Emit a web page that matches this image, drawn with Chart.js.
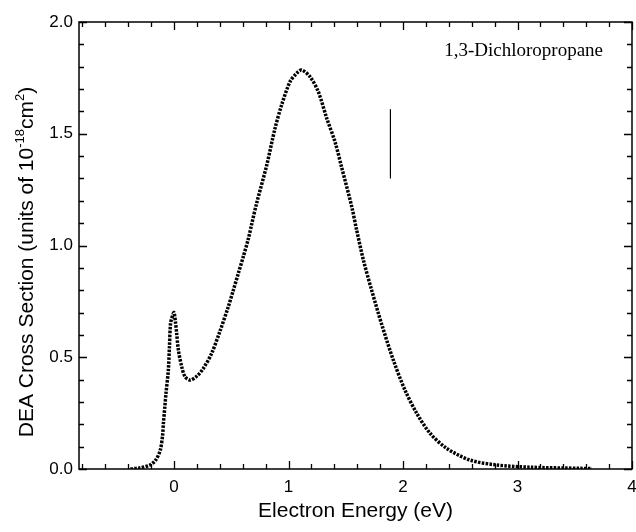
<!DOCTYPE html>
<html>
<head>
<meta charset="utf-8">
<script src="https://cdn.jsdelivr.net/npm/chart.js@4"></script>
<style>
  html, body { margin: 0; padding: 0; background: #fff; }
  #wrap { width: 636px; height: 532px; }
</style>
</head>
<body>
<div id="wrap"><canvas id="dea"></canvas></div>
<script>
// values (eV, units of 1e-18 cm^2)
const energy = [
  -0.38, -0.30, -0.21, -0.16, -0.12, -0.10, -0.093, -0.08, -0.07, -0.05,
  -0.04, -0.03, -0.01, 0.00, 0.012, 0.023, 0.038, 0.067, 0.096, 0.14,
  0.198, 0.256, 0.329, 0.40, 0.474, 0.518, 0.562, 0.605, 0.649, 0.678,
  0.722, 0.81, 0.882, 0.94, 1.013, 1.07, 1.115, 1.188,
  1.26, 1.334, 1.406, 1.464, 1.552, 1.595, 1.654, 1.726, 1.82, 1.915,
  2.017, 2.12, 2.236, 2.38, 2.585, 2.818, 3.11, 3.55, 3.65
];
const crossSection = [
  0.000, 0.005, 0.018, 0.040, 0.085, 0.150, 0.204, 0.280, 0.340, 0.440,
  0.547, 0.652, 0.690, 0.700, 0.660, 0.607, 0.532, 0.458, 0.413, 0.398,
  0.415, 0.450, 0.518, 0.615, 0.726, 0.800, 0.876, 0.950, 1.030, 1.095,
  1.190, 1.360, 1.524, 1.629, 1.733, 1.770, 1.785, 1.755,
  1.688, 1.569, 1.464, 1.350, 1.174, 1.069, 0.935, 0.800, 0.637, 0.488,
  0.353, 0.249, 0.160, 0.093, 0.040, 0.018, 0.008, 0.003, 0.002
];
const xTicks = [0, 1, 2, 3, 4];
const yTicks = [0, 0.5, 1.0, 1.5, 2.0];
const markerEnergy = [1.89, 1.89];
const markerSection = [1.30, 1.61];
const compound = '1,3-Dichloropropane';

const points = energy.map((e, i) => ({ x: e, y: crossSection[i] }));
const marker = markerEnergy.map((e, i) => ({ x: e, y: markerSection[i] }));

// box with inward ticks on all four sides
const frameTicks = {
  id: 'frameTicks',
  afterDraw(chart) {
    const { ctx, chartArea: a, scales: { x, y } } = chart;
    ctx.save();
    ctx.strokeStyle = '#000';
    ctx.lineWidth = 1.5;
    ctx.strokeRect(a.left, a.top, a.right - a.left, a.bottom - a.top);
    ctx.lineWidth = 1.3;
    ctx.beginPath();
    for (let i = -4; i <= 20; i++) {
      const px = Math.round(x.getPixelForValue(i / 5)) + 0.5;
      const len = i % 5 === 0 ? 8 : 5;
      ctx.moveTo(px, a.bottom); ctx.lineTo(px, a.bottom - len);
      ctx.moveTo(px, a.top); ctx.lineTo(px, a.top + len);
    }
    for (let i = 0; i <= 20; i++) {
      const py = Math.round(y.getPixelForValue(i / 10)) + 0.5;
      const len = i % 5 === 0 ? 8 : 5;
      ctx.moveTo(a.left, py); ctx.lineTo(a.left + len, py);
      ctx.moveTo(a.right, py); ctx.lineTo(a.right - len, py);
    }
    ctx.stroke();

    // compound name
    ctx.fillStyle = '#000';
    ctx.font = '19px "Liberation Serif", serif';
    ctx.textAlign = 'right';
    ctx.textBaseline = 'alphabetic';
    ctx.fillText(compound, 603, 56);

    // y title with superscripts
    const parts = [
      ['DEA Cross Section (units of 10', 0],
      ['-18', 1],
      ['cm', 0],
      ['2', 1],
      [')', 0]
    ];
    const big = '21px "Liberation Sans", Arial, sans-serif';
    const small = '13px "Liberation Sans", Arial, sans-serif';
    let total = 0;
    parts.forEach(([t, sup]) => { ctx.font = sup ? small : big; total += ctx.measureText(t).width; });
    ctx.translate(33, 262);
    ctx.rotate(-Math.PI / 2);
    ctx.textAlign = 'left';
    let cx = -total / 2;
    parts.forEach(([t, sup]) => {
      ctx.font = sup ? small : big;
      ctx.fillText(t, cx, sup ? -9 : 0);
      cx += ctx.measureText(t).width;
    });
    ctx.restore();
  }
};

new Chart(document.getElementById('dea'), {
  type: 'scatter',
  data: {
    datasets: [
      {
        label: compound,
        data: points,
        showLine: true,
        borderColor: '#000',
        backgroundColor: '#000',
        borderWidth: 3.5,
        borderDash: [2.5, 1.3],
        tension: 0.3,
        pointRadius: 0
      },
      {
        label: 'marker',
        data: marker,
        showLine: true,
        borderColor: '#000',
        borderWidth: 1.2,
        pointRadius: 0
      }
    ]
  },
  options: {
    responsive: true,
    maintainAspectRatio: false,
    animation: false,
    layout: { padding: { top: 22, right: 4, left: 0, bottom: 0 } },
    plugins: { legend: { display: false }, tooltip: { enabled: false } },
    scales: {
      x: {
        type: 'linear',
        min: -0.83,
        max: 4,
        grid: { display: false, drawTicks: false },
        border: { display: false },
        afterBuildTicks: s => { s.ticks = xTicks.map(v => ({ value: v })); },
        afterFit: s => { s.height = 63; s.paddingLeft = 0; s.paddingRight = 0; },
        ticks: {
          padding: 8,
          maxRotation: 0,
          color: '#000',
          font: { family: '"Liberation Sans", Arial, sans-serif', size: 17 },
          callback: v => String(v)
        },
        title: {
          display: true,
          text: 'Electron Energy (eV)',
          color: '#000',
          font: { family: '"Liberation Sans", Arial, sans-serif', size: 21 },
          padding: { top: 0, bottom: 8 }
        }
      },
      y: {
        type: 'linear',
        min: 0,
        max: 2,
        grid: { display: false, drawTicks: false },
        border: { display: false },
        afterBuildTicks: s => { s.ticks = yTicks.map(v => ({ value: v })); },
        afterFit: s => { s.width = 79; s.paddingTop = 0; s.paddingBottom = 0; },
        ticks: {
          padding: 6,
          color: '#000',
          font: { family: '"Liberation Sans", Arial, sans-serif', size: 17 },
          callback: v => Number(v).toFixed(1)
        }
      }
    }
  },
  plugins: [frameTicks]
});
</script>
</body>
</html>
